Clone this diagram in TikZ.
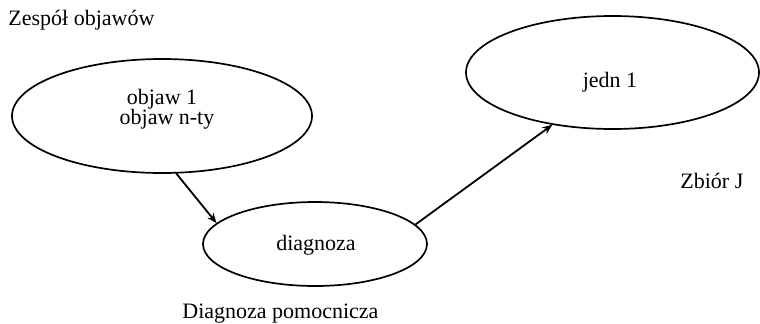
\documentclass[tikz,border=0pt]{standalone}
\usepackage{fontspec}
\setmainfont{Liberation Serif}
\usetikzlibrary{shapes.geometric,arrows.meta}
\begin{document}
\begin{tikzpicture}[x=0.5pt,y=-0.5pt,
  oval/.style={draw,ellipse,line width=0.85pt,inner sep=0pt},
  txt/.style={font=\fontsize{11}{10}\selectfont,inner sep=0pt,anchor=base},
  conn/.style={line width=0.9pt,-{Stealth[length=5pt,width=4pt]}}]
\useasboundingbox (0,0) rectangle (760,323);
\node[oval,minimum width=150pt,minimum height=57pt] (obj) at (162,116) {};
\node[oval,minimum width=146.5pt,minimum height=56.5pt] (jedn) at (612.5,72.5) {};
\node[oval,minimum width=112pt,minimum height=42pt] (diag) at (315,244) {};
\node[txt,anchor=base west] (t1) at (8,25) {Zespół objawów};
\node[txt] (o1) at (162,104) {objaw 1};
\node[txt] (o2) at (167,124) {objaw n-ty};
\node[txt] (j1) at (610,87) {jedn 1};
\node[txt] (d1) at (316,250) {diagnoza};
\node[txt,anchor=base west] (zb) at (680,188) {Zbiór J};
\node[txt,anchor=base west] (dp) at (182,318) {Diagnoza pomocnicza};
\draw[conn] (obj.-76) -- (diag.168);
\draw[conn] (diag.11.5) -- (jedn.-139);
\end{tikzpicture}
\end{document}
